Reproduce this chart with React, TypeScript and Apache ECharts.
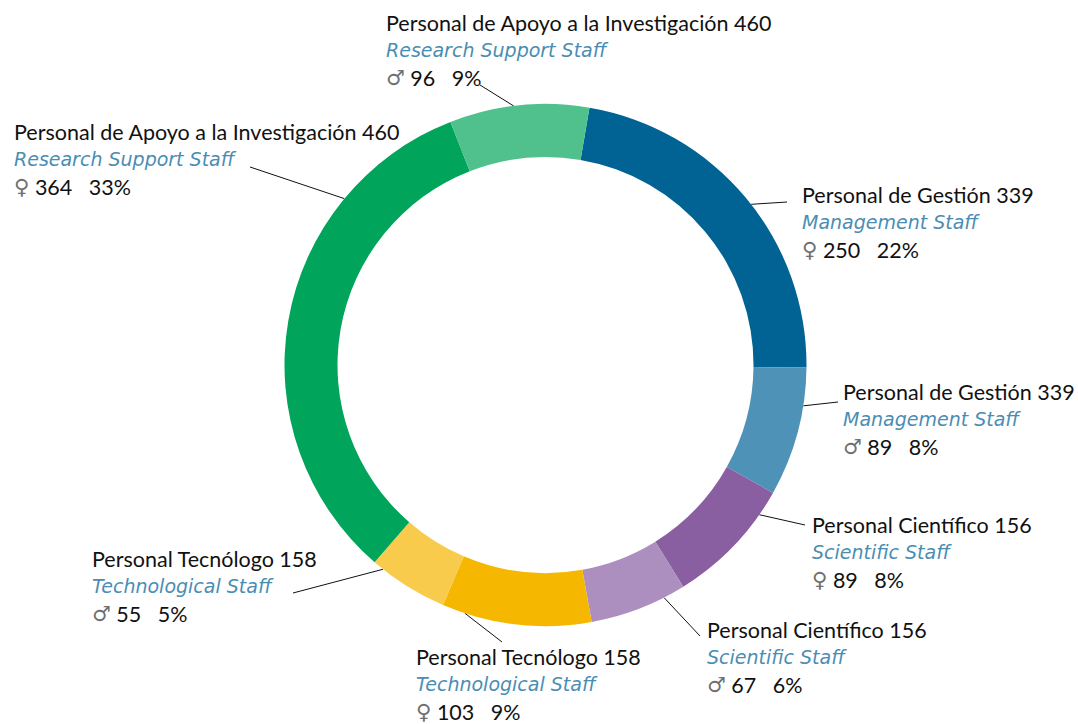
import React, { useEffect, useRef } from "react";
import * as echarts from "echarts";

// Data (clockwise order starting at top-right)
const groupsEs = ["Personal de Gestión", "Personal de Gestión", "Personal Científico", "Personal Científico", "Personal Tecnólogo", "Personal Tecnólogo", "Personal de Apoyo a la Investigación", "Personal de Apoyo a la Investigación"];
const groupsEn = ["Management Staff", "Management Staff", "Scientific Staff", "Scientific Staff", "Technological Staff", "Technological Staff", "Research Support Staff", "Research Support Staff"];
const sexes = ["♀", "♂", "♀", "♂", "♀", "♂", "♀", "♂"];
const values = [250, 89, 89, 67, 103, 55, 364, 96];
const colors = ["#006394", "#4E93B7", "#8A5FA2", "#AD8FBF", "#F6B700", "#F8CB4C", "#00A45A", "#50C08D"];

// Label layout (styling): top-left of each label, line end, line start angle (deg clockwise from top)
const labelPos = [[802, 181], [843, 378], [812, 511], [707, 616], [416, 643], [92, 545], [14, 118], [386, 9]];
const lineEnd = [[787, 202], [838, 402], [805, 525], [700, 636], [502, 642], [293, 593], [250, 167], [480, 85]];
const lineAngle = [52, 99, 125, 153, 198, 218.5, -50.4, -7];

const CX = 545.5;
const CY = 365;
const R_IN = 208;
const R_OUT = 261;

export default function App() {
  const ref = useRef<HTMLDivElement>(null);
  useEffect(() => {
    document.body.style.margin = "0";
    const chart = echarts.init(ref.current!, null, { renderer: "svg" });
    const total = values.reduce((a, b) => a + b, 0);
    const groupTotal = (i: number) => {
      let s = 0;
      values.forEach((v, j) => { if (groupsEs[j] === groupsEs[i]) s += v; });
      return s;
    };
    const data = values.map((v, i) => ({
      value: v,
      name: groupsEs[i] + " " + sexes[i],
      itemStyle: { color: colors[i] },
    }));
    chart.setOption({
      animation: false,
      series: [
        {
          type: "pie",
          center: [CX, CY],
          radius: [R_IN, R_OUT],
          startAngle: 80.3,
          clockwise: true,
          avoidLabelOverlap: false,
          emphasis: { disabled: true },
          data,
          label: {
            show: true,
            position: "outside",
            formatter: (p: any) => {
              const i = p.dataIndex;
              const pct = Math.round((values[i] / total) * 100);
              return `{a|${groupsEs[i]} ${groupTotal(i)}}\n{b|${groupsEn[i]}}\n{s|${sexes[i]}}{c| ${values[i]}   ${pct}%}`;
            },
            rich: {
              a: { fontFamily: "Lato", fontSize: 21.5, color: "#111", lineHeight: 27 },
              b: { fontFamily: "DejaVu Sans", fontStyle: "italic", fontSize: 19, color: "#4A8DB3", lineHeight: 27 },
              s: { fontFamily: "DejaVu Sans", fontSize: 21, color: "#707070", lineHeight: 29 },
              c: { fontFamily: "Lato", fontSize: 21.5, color: "#111", lineHeight: 29 },
            },
          },
          labelLine: { show: true, lineStyle: { color: "#111", width: 1 } },
          labelLayout: (params: any) => {
            const i = params.dataIndex;
            const a = (lineAngle[i] * Math.PI) / 180;
            const sx = CX + R_OUT * Math.sin(a);
            const sy = CY - R_OUT * Math.cos(a);
            return {
              x: labelPos[i][0],
              y: labelPos[i][1],
              align: "left",
              verticalAlign: "top",
              labelLinePoints: [[sx, sy], lineEnd[i]],
            };
          },
        },
      ],
    });
    return () => chart.dispose();
  }, []);
  return <div ref={ref} style={{ width: 1078, height: 724 }} />;
}
